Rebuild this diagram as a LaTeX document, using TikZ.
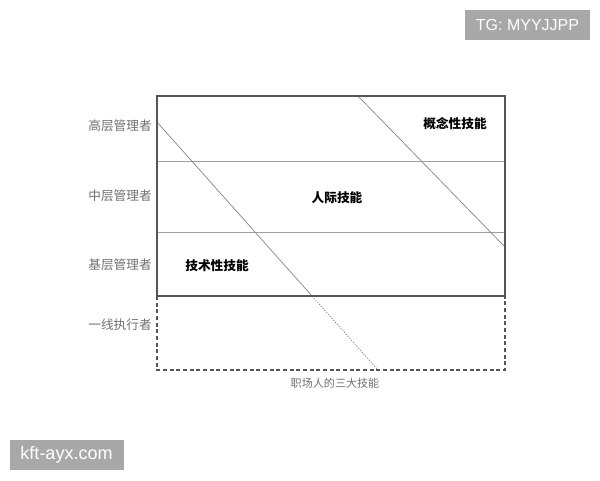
\documentclass[tikz,border=0pt]{standalone}
\usepackage{fontspec}
\setmainfont{Noto Sans CJK SC}
\newfontfamily\latinfont{Liberation Sans}
\definecolor{framegray}{HTML}{555555}
\definecolor{rulegray}{HTML}{A0A0A0}
\definecolor{diaggray}{HTML}{808080}
\definecolor{textgray}{HTML}{707070}
\definecolor{wmgray}{HTML}{A8A8A8}
\begin{document}
\begin{tikzpicture}
    [x=0.75pt,y=-0.75pt,
    level/.style = {font=\fontsize{9.5}{11}\selectfont,
                    text=textgray, anchor=east, inner sep=0pt},
    skill/.style = {font=\fontsize{9.5}{11}\selectfont\bfseries,
                    inner sep=0pt},
    wmtext/.style = {text=white, inner sep=0pt, font=\latinfont}]
    \useasboundingbox (0,0) rectangle (600,480);
    % Marcas de agua
    \fill[wmgray] (465,10) rectangle (590,40);
    \fill[wmgray] (10,440) rectangle (124,470);
    \node[wmtext, font=\latinfont\fontsize{12}{14}\selectfont] (tg) at (527.5,25) {TG: MYYJJPP};
    \node[wmtext, font=\latinfont\fontsize{13.5}{15}\selectfont] (site) at (66.5,455) {kft-ayx.com};
    % Niveles horizontales
    \draw[rulegray, line width=0.6pt] (157,161) -- (505,161);
    \draw[rulegray, line width=0.6pt] (157,232) -- (505,232);
    % Diagonales
    \coordinate (t1) at (157,122);
    \coordinate (m1) at (312,296);
    \coordinate (e1) at (378,370);
    \coordinate (t2) at (358,96);
    \coordinate (e2) at (505,247);
    \draw[diaggray, line width=0.5pt] (t1) -- (m1);
    \draw[diaggray, line width=0.5pt, dash pattern=on 1pt off 1pt] (m1) -- (e1);
    \draw[diaggray, line width=0.5pt] (t2) -- (e2);
    % Marco
    \draw[framegray, line width=0.9pt] (157,96) rectangle (505,296);
    \draw[framegray, line width=0.9pt, dash pattern=on 3pt off 2pt]
        (157,296) -- (157,370) -- (505,370) -- (505,296);
    % Niveles
    \node[level] (top) at (152,126) {高层管理者};
    \node[level] (mid) at (152,196) {中层管理者};
    \node[level] (base) at (152,265) {基层管理者};
    \node[level] (line) at (152,325) {一线执行者};
    % Habilidades
    \node[skill] (concept) at (455,124) {概念性技能};
    \node[skill] (human) at (337,198) {人际技能};
    \node[skill] (tech) at (217,266) {技术性技能};
    \node[font=\fontsize{8.3}{10}\selectfont, text=textgray, inner sep=0pt]
        (title) at (335,383) {职场人的三大技能};
\end{tikzpicture}
\end{document}
